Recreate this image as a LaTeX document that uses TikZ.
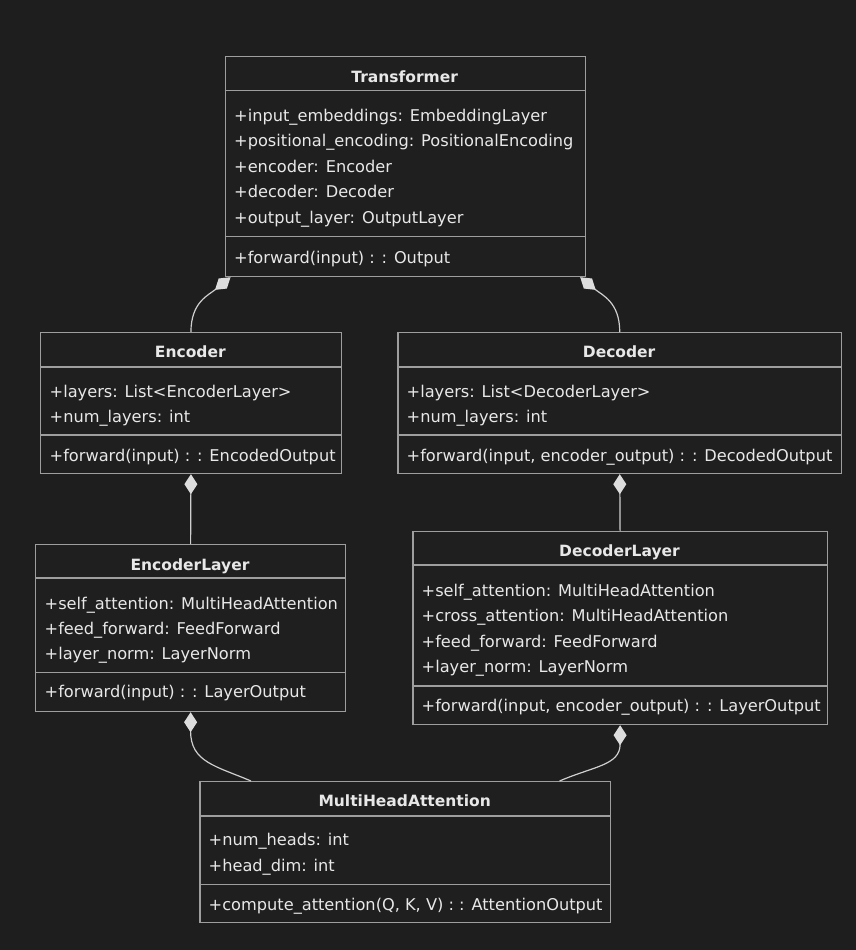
\documentclass[tikz,border=0pt]{standalone}
\usepackage{fontspec}
\setmainfont{DejaVu Sans}
\usetikzlibrary{arrows.meta}
\definecolor{bg}{HTML}{1E1E1E}
\definecolor{boxfill}{HTML}{1F1F1F}
\definecolor{boxline}{HTML}{9E9E9E}
\definecolor{txt}{HTML}{E8E8E8}
\definecolor{conn}{HTML}{CFCFCF}
\definecolor{dia}{HTML}{DDDDDD}
\tikzset{
  cls/.style={draw=boxline, fill=boxfill, line width=1.2pt, inner sep=0pt, anchor=north west},
  ttl/.style={font=\bfseries\fontsize{15.5}{18}\selectfont, text=txt, anchor=base, inner sep=0pt},
  mem/.style={font=\fontsize{16.2}{18}\selectfont, text=txt, anchor=base west, inner sep=0pt},
  sepline/.style={draw=boxline, line width=1.2pt},
  comp/.style={draw=conn, line width=1.2pt, {Diamond[length=20pt,width=13pt,fill=dia,color=dia]}-}
}
\begin{document}
\begin{tikzpicture}[x=1pt,y=-1pt]
\fill[bg] (0,0) rectangle (856,950);
\useasboundingbox (0,0) rectangle (856,950);

% Transformer
\node[cls, minimum width=360.5pt, minimum height=220pt] (trans) at (224.5,56) {};
\draw[sepline] (trans.west |- 0,90.7) -- (trans.east |- 0,90.7);
\draw[sepline] (trans.west |- 0,236.7) -- (trans.east |- 0,236.7);
\node[ttl] (transT) at (404.75,82) {Transformer};
\node[mem] (transA1) at (234,121) {+input\_embeddings: EmbeddingLayer};
\node[mem] (transA2) at (234,146.5) {+positional\_encoding: PositionalEncoding};
\node[mem] (transA3) at (234,172) {+encoder: Encoder};
\node[mem] (transA4) at (234,197.5) {+decoder: Decoder};
\node[mem] (transA5) at (234,223) {+output\_layer: OutputLayer};
\node[mem] (transM1) at (234,263) {+forward(input) : : Output};

% Encoder
\node[cls, minimum width=300.7pt, minimum height=141pt] (enc) at (40,332) {};
\draw[sepline] (enc.west |- 0,367) -- (enc.east |- 0,367);
\draw[sepline] (enc.west |- 0,435) -- (enc.east |- 0,435);
\node[ttl] (encT) at (190.35,357.7) {Encoder};
\node[mem] (encA1) at (49.5,397.7) {+layers: List<EncoderLayer>};
\node[mem] (encA2) at (49.5,422.7) {+num\_layers: int};
\node[mem] (encM1) at (49.5,461.7) {+forward(input) : : EncodedOutput};

% Decoder
\node[cls, minimum width=443.7pt, minimum height=141pt] (dec) at (397.3,332) {};
\draw[sepline] (dec.west |- 0,367) -- (dec.east |- 0,367);
\draw[sepline] (dec.west |- 0,435) -- (dec.east |- 0,435);
\node[ttl] (decT) at (619.15,357.7) {Decoder};
\node[mem] (decA1) at (406.5,397.7) {+layers: List<DecoderLayer>};
\node[mem] (decA2) at (406.5,422.7) {+num\_layers: int};
\node[mem] (decM1) at (406.5,461.7) {+forward(input, encoder\_output) : : DecodedOutput};

% EncoderLayer
\node[cls, minimum width=310pt, minimum height=167pt] (encl) at (35,544) {};
\draw[sepline] (encl.west |- 0,578) -- (encl.east |- 0,578);
\draw[sepline] (encl.west |- 0,672.3) -- (encl.east |- 0,672.3);
\node[ttl] (enclT) at (190,570) {EncoderLayer};
\node[mem] (enclA1) at (44.5,609.3) {+self\_attention: MultiHeadAttention};
\node[mem] (enclA2) at (44.5,634.3) {+feed\_forward: FeedForward};
\node[mem] (enclA3) at (44.5,659.3) {+layer\_norm: LayerNorm};
\node[mem] (enclM1) at (44.5,697.7) {+forward(input) : : LayerOutput};

% DecoderLayer
\node[cls, minimum width=414.4pt, minimum height=193pt] (decl) at (412.3,531) {};
\draw[sepline] (decl.west |- 0,565) -- (decl.east |- 0,565);
\draw[sepline] (decl.west |- 0,686) -- (decl.east |- 0,686);
\node[ttl] (declT) at (619.5,556.7) {DecoderLayer};
\node[mem] (declA1) at (421.5,596) {+self\_attention: MultiHeadAttention};
\node[mem] (declA2) at (421.5,621.7) {+cross\_attention: MultiHeadAttention};
\node[mem] (declA3) at (421.5,647) {+feed\_forward: FeedForward};
\node[mem] (declA4) at (421.5,672.7) {+layer\_norm: LayerNorm};
\node[mem] (declM1) at (421.5,711.7) {+forward(input, encoder\_output) : : LayerOutput};

% MultiHeadAttention
\node[cls, minimum width=410.7pt, minimum height=141pt] (mha) at (199.3,781) {};
\draw[sepline] (mha.west |- 0,816) -- (mha.east |- 0,816);
\draw[sepline] (mha.west |- 0,884.3) -- (mha.east |- 0,884.3);
\node[ttl] (mhaT) at (404.65,806.7) {MultiHeadAttention};
\node[mem] (mhaA1) at (208.5,845.3) {+num\_heads: int};
\node[mem] (mhaA2) at (208.5,871.7) {+head\_dim: int};
\node[mem] (mhaM1) at (208.5,910.3) {+compute\_attention(Q, K, V) : : AttentionOutput};

% Composition connectors
\draw[comp] ([xshift=6pt]trans.south west) .. controls +(-22,18) and +(0,-30) .. (enc.north);
\draw[comp] ([xshift=-6pt]trans.south east) .. controls +(22,18) and +(0,-30) .. (dec.north);
\draw[comp] (enc.south) -- (encl.north);
\draw[comp] (dec.south) -- (decl.north);
\draw[comp] (encl.south) .. controls +(0,50) and +(-35,-15) .. ([xshift=51.7pt]mha.north west);
\draw[comp] (decl.south) .. controls +(0,40) and +(35,-15) .. ([xshift=-51.7pt]mha.north east);
\end{tikzpicture}
\end{document}
